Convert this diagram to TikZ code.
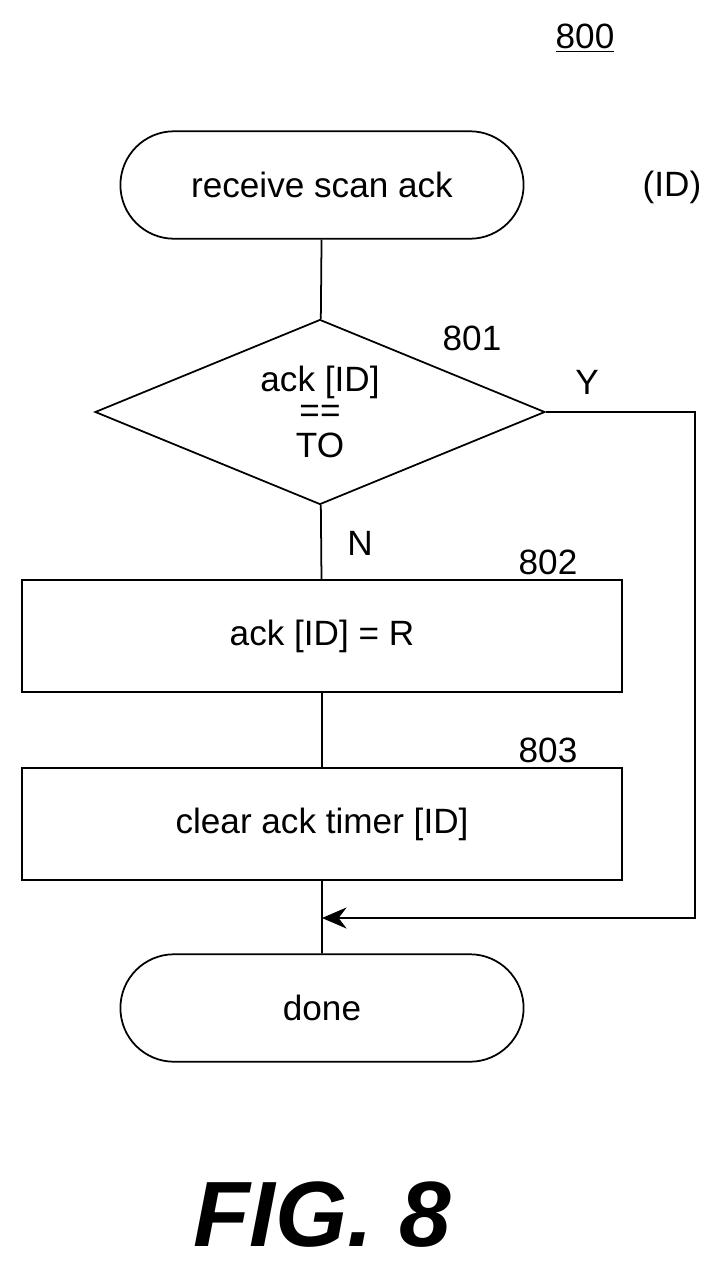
\documentclass[tikz,border=0pt]{standalone}
\usepackage{fontspec}
\setmainfont{Liberation Sans}
\usetikzlibrary{shapes.geometric,shapes.misc,arrows.meta}
\begin{document}
\begin{tikzpicture}[x=0.02cm,y=-0.02cm,
  txt/.style={font=\fontsize{20}{24}\selectfont},
  term/.style={draw,line width=1pt,rounded rectangle,minimum width=8.3cm,minimum height=2.15cm,txt},
  proc/.style={draw,line width=1pt,minimum width=12cm,minimum height=2.24cm,txt},
  dec/.style={draw,line width=1pt,diamond,aspect=2.43,minimum width=9cm,minimum height=3.7cm,inner sep=0pt,align=center,txt},
  lbl/.style={txt},
  flow/.style={line width=1pt}]
\useasboundingbox (0,0) rectangle (725,1265);

\node[lbl] (fig) at (585,38) {\underline{800}};
\node[term] (start) at (322,185) {receive scan ack};
\node[lbl] (id) at (672,187) {(ID)};

\node[dec] (d801) at (320,412) {ack [ID]\\[-6pt]==\\[-4pt]TO};
\node[lbl] (l801) at (472,338) {801};
\node[lbl] (y) at (587,382) {Y};
\node[lbl] (n) at (360,543) {N};

\node[proc] (s802) at (322,636) {ack [ID] = R};
\node[lbl] (l802) at (548,562) {802};
\node[proc] (s803) at (322,824) {clear ack timer [ID]};
\node[lbl] (l803) at (548,750) {803};

\node[term] (done) at (322,1008) {done};

\coordinate (right) at (695,412);
\coordinate (join) at (322,918);
\coordinate (corner) at (695,918);

\draw[flow] (start) -- (d801);
\draw[flow] (d801) -- (s802);
\draw[flow] (s802) -- (s803);
\draw[flow] (s803) -- (done);
\draw[flow,-{Stealth[length=14pt,width=12pt]}] (d801.east) -- (right) -- (corner) -- (join);

\node[font=\fontsize{48}{56}\selectfont\bfseries\itshape,scale=1.1] (cap) at (322,1215) {FIG. 8};
\end{tikzpicture}
\end{document}
